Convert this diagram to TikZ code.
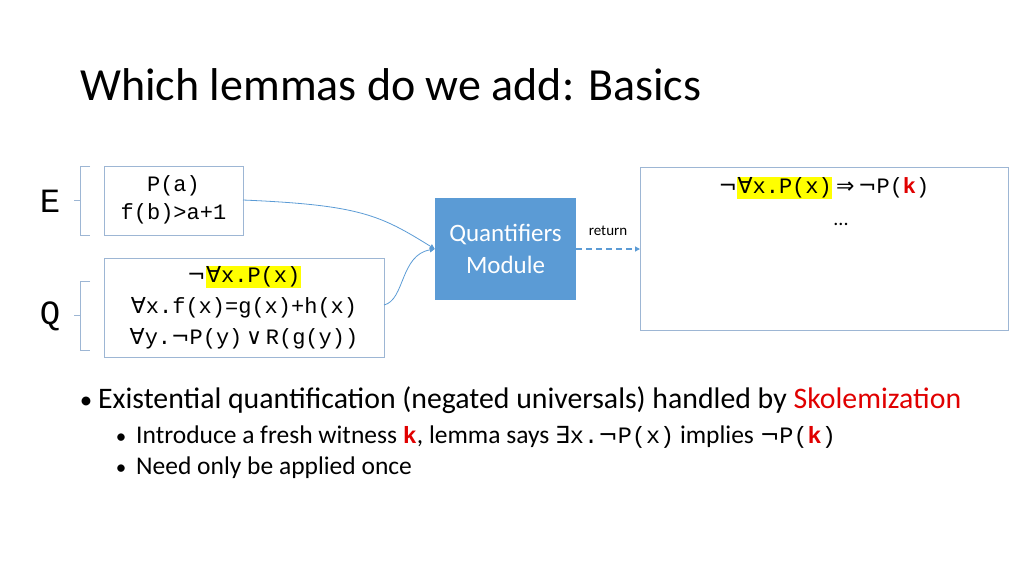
\documentclass[tikz,border=0pt]{standalone}
\usepackage{fontspec}
\setmainfont{Carlito}
\setmonofont{Liberation Mono}
\newfontfamily\symf{DejaVu Sans}
\usetikzlibrary{arrows.meta}
\definecolor{qblue}{HTML}{5B9BD5}
\definecolor{bord}{HTML}{9DB6D4}
\definecolor{hl}{HTML}{FFFF00}
\definecolor{skred}{HTML}{E00000}
\newcommand{\N}{{\symf\char"00AC}}
\newcommand{\A}{{\symf\char"2200}}
\newcommand{\E}{{\symf\char"2203}}
\newcommand{\OR}{{\symf\char"2228}}
\newcommand{\IMP}{{\symf\char"21D2}}
\newcommand{\HL}[1]{\begingroup\setlength{\fboxsep}{0.5pt}\colorbox{hl}{#1}\endgroup}
\newcommand{\kk}{\textcolor{skred}{\textbf{k}}}
\begin{document}
\begin{tikzpicture}[x=1pt,y=-1pt,
  mbox/.style={draw=bord,line width=0.8pt,inner sep=0pt},
  tx/.style={font=\ttfamily\fontsize{22}{28}\selectfont,align=center,inner sep=0pt},
  conn/.style={qblue,line width=0.8pt,-{Triangle[length=5pt,width=5pt]}}]
\useasboundingbox (0,0) rectangle (1024,576);
\node[anchor=base west,inner sep=0pt,font=\fontsize{46}{50}\selectfont] (title) at (80,100) {Which lemmas do we add: Basics};
% brackets
\draw[bord,line width=0.8pt] (90,166) -- (80,166) -- (80,235) -- (90,235) (80,200) -- (74,200);
\draw[bord,line width=0.8pt] (90,281) -- (80,281) -- (80,350) -- (90,350) (80,315) -- (74,315);
\node[font=\ttfamily\fontsize{34}{34}\selectfont,inner sep=0pt] (E) at (50,201) {E};
\node[font=\ttfamily\fontsize{34}{34}\selectfont,inner sep=0pt] (Q) at (50,316) {Q};
% boxes
\draw[mbox] (104,166) rectangle (243,235);
\coordinate (b1) at (243,200);
\node[tx] (t1) at (173.5,200) {P(a)\\f(b)>a+1};
\draw[mbox] (104,258) rectangle (384,357);
\coordinate (b2) at (384,305);
\node[tx,font=\ttfamily\fontsize{22}{31}\selectfont] (t2) at (244,308) {\N\HL{\A x.P(x)}\\\A x.f(x)=g(x)+h(x)\\\A y.\N P(y)\,\OR\,R(g(y))};
\node[fill=qblue,minimum width=141pt,minimum height=102pt,inner sep=0pt,text=white,align=center,font=\fontsize{25}{32}\selectfont] (qm) at (505.5,249) {Quantifiers\\Module};
\draw[mbox] (640,167) rectangle (1008,330);
\coordinate (rb) at (640,249);
\node[tx] (r1) at (824,188) {\N\HL{\A x.P(x)}\,\IMP\,\N P(\kk)};
\node[font=\fontsize{20}{20}\selectfont,inner sep=0pt] (dots) at (841,224) {...};
\draw[conn] (b1) .. controls (360,205) and (380,215) .. (qm.west);
\draw[conn] (b2) .. controls (405,300) and (400,255) .. (qm.west);
\draw[conn,dashed,line width=1.5pt,dash pattern=on 6pt off 4pt] (qm.east) -- (rb);
\node[font=\fontsize{15}{16}\selectfont,inner sep=0pt] (ret) at (608,231) {return};
% bullets
\node[anchor=base west,inner sep=0pt,font=\fontsize{29.8}{32}\selectfont] (bl1) at (98,408) {Existential quantification (negated universals) handled by \textcolor{skred}{Skolemization}};
\node[anchor=base,inner sep=0pt,font=\fontsize{25}{28}\selectfont] (d1) at (86,408) {•};
\node[anchor=base west,inner sep=0pt,font=\fontsize{25.5}{27}\selectfont] (bl2) at (136,443) {Introduce a fresh witness {\ttfamily\fontsize{23.5}{25}\selectfont\kk}, lemma says {\ttfamily\fontsize{23.5}{25}\selectfont\E x.\N P(x)} implies {\ttfamily\fontsize{23.5}{25}\selectfont\N P(\kk)}};
\node[anchor=base,inner sep=0pt,font=\fontsize{21}{24}\selectfont] (d2) at (121,443) {•};
\node[anchor=base west,inner sep=0pt,font=\fontsize{25.5}{27}\selectfont] (bl3) at (136,474) {Need only be applied once};
\node[anchor=base,inner sep=0pt,font=\fontsize{21}{24}\selectfont] (d3) at (121,474) {•};
\end{tikzpicture}
\end{document}
